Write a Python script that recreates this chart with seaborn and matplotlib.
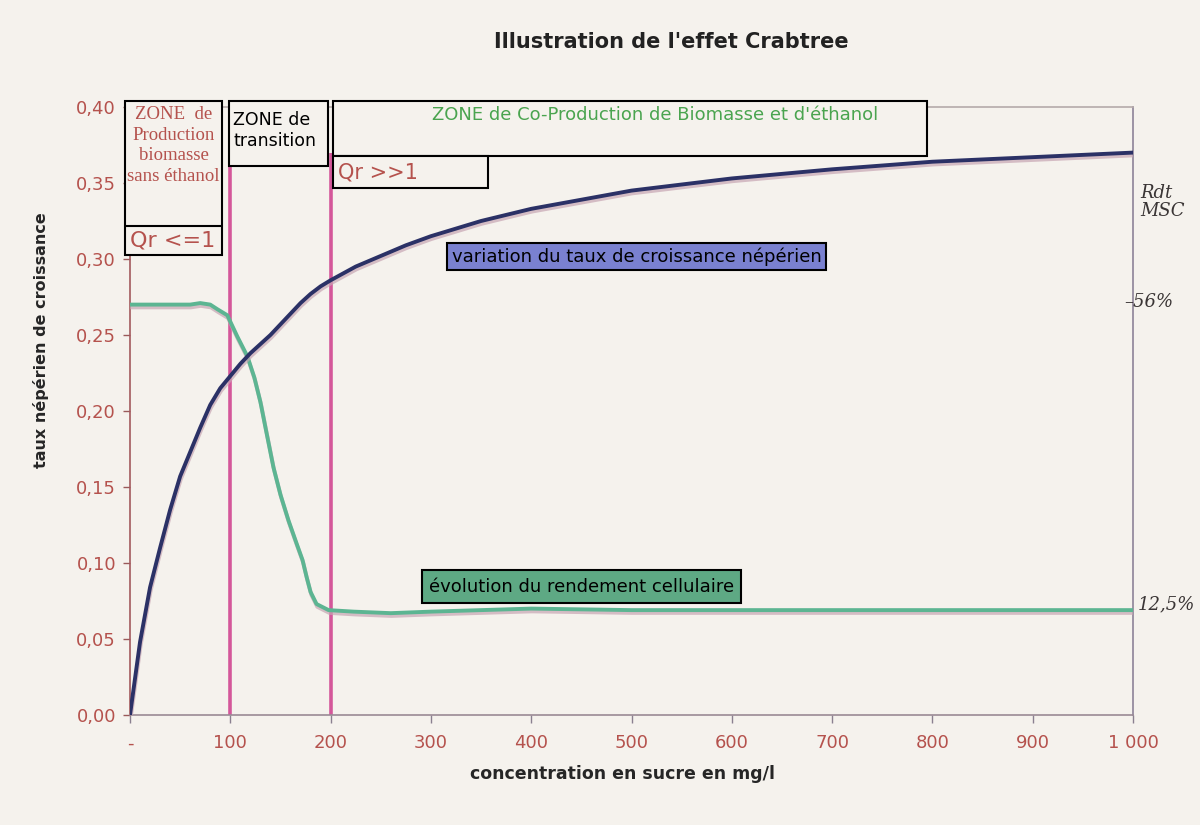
import numpy as np
import pandas as pd
import seaborn as sns
import matplotlib.pyplot as plt
import matplotlib.patheffects as pe
from matplotlib.patches import Rectangle
from matplotlib.transforms import ScaledTranslation
from matplotlib.ticker import FuncFormatter

# sucre (mg/l) -> taux de croissance nepérien
sugar_mu = [0, 5, 10, 20, 30, 40, 50, 60, 70, 80, 90, 100, 110, 120, 130, 140,
            150, 160, 170, 180, 190, 200, 225, 250, 275, 300, 350, 400, 450,
            500, 600, 700, 800, 900, 1000]
mu = [0.000, 0.024, 0.048, 0.084, 0.110, 0.135, 0.157, 0.173, 0.189, 0.204,
      0.215, 0.223, 0.231, 0.238, 0.244, 0.250, 0.257, 0.264, 0.271, 0.277,
      0.282, 0.286, 0.295, 0.302, 0.309, 0.315, 0.325, 0.333, 0.339, 0.345,
      0.353, 0.359, 0.364, 0.367, 0.370]

# sucre (mg/l) -> rendement cellulaire
sugar_yield = [0, 20, 40, 60, 70, 80, 87, 97, 107, 117, 124, 130, 136, 143,
               150, 158, 166, 172, 176, 180, 186, 198, 223, 260, 300, 400,
               500, 700, 1000]
yield_cell = [0.270, 0.270, 0.270, 0.270, 0.271, 0.270, 0.267, 0.263, 0.249,
              0.236, 0.222, 0.206, 0.186, 0.163, 0.145, 0.128, 0.113, 0.102,
              0.091, 0.081, 0.073, 0.069, 0.068, 0.067, 0.068, 0.070, 0.069,
              0.069, 0.069]

zone_edges = [100, 200]
x_ticks = [0, 100, 200, 300, 400, 500, 600, 700, 800, 900, 1000]
x_labels = ['-', '100', '200', '300', '400', '500', '600', '700', '800', '900', '1 000']
y_ticks = [0.0, 0.05, 0.10, 0.15, 0.20, 0.25, 0.30, 0.35, 0.40]

bg = '#f5f2ed'
red = '#b5524d'
blue = '#2b3166'
green = '#5cb592'
magenta = '#d4579a'

sns.set_style("ticks")
plt.rcParams['font.family'] = ['DejaVu Sans']

fig = plt.figure(figsize=(12, 8.25), dpi=100, facecolor=bg)
ax = fig.add_axes([130/1200, 1 - 715/825, (1133-130)/1200, (715-107)/825])
ax.set_facecolor(bg)

df_mu = pd.DataFrame({'sucre': sugar_mu, 'taux': mu})
df_y = pd.DataFrame({'sucre': sugar_yield, 'rendement': yield_cell})

shadow = [pe.SimpleLineShadow(offset=(0.5, -2), shadow_color='#c7a5b3', alpha=0.7), pe.Normal()]

for xz in zone_edges:
    ax.plot([xz, xz], [0, 0.37], color=magenta, lw=2.6, zorder=2, solid_capstyle='butt')

sns.lineplot(data=df_y, x='sucre', y='rendement', ax=ax, color=green, lw=2.8,
             path_effects=shadow, zorder=3)
sns.lineplot(data=df_mu, x='sucre', y='taux', ax=ax, color=blue, lw=2.8,
             path_effects=shadow, zorder=4)

ax.set_xlim(0, 1000)
ax.set_ylim(0, 0.40)

ax.set_yticks(y_ticks)
ax.yaxis.set_major_formatter(FuncFormatter(lambda v, p: f"{v:.2f}".replace('.', ',')))
ax.set_xticks(x_ticks)
ax.set_xticklabels(x_labels)
shift = ScaledTranslation(-10/100, 0, fig.dpi_scale_trans)
for lab in ax.get_xticklabels():
    lab.set_transform(lab.get_transform() + shift)

ax.tick_params(axis='y', colors='#9a5a5a', labelcolor=red, labelsize=13, length=5, width=1, pad=5)
ax.tick_params(axis='x', colors='#8a8090', labelcolor=red, labelsize=13, length=6, width=1, pad=8)

ax.spines['left'].set_color('#a35a5e')
ax.spines['bottom'].set_color('#9a8a95')
ax.spines['right'].set_color('#8d8398')
ax.spines['top'].set_color('#b5aaaa')
ax.spines['top'].set_linestyle((0, (2, 1)))
for s in ax.spines.values():
    s.set_linewidth(1.2)

ax.set_xlabel('concentration en sucre en mg/l', fontsize=12.5, fontweight='bold')
ax.set_ylabel('taux népérien de croissance', fontsize=11.5, fontweight='bold')
ax.xaxis.set_label_coords(0.4915, -0.083)
ax.yaxis.set_label_coords(-0.081, 0.617)
fig.text(671/1200, 1 - 42/825, "Illustration de l'effet Crabtree", ha='center', va='center',
         fontsize=15, fontweight='bold', color='#222222')

# zones (boxes in data coordinates)
def box(x0, x1, y0, y1):
    r = Rectangle((x0, y0), x1 - x0, y1 - y0, fill=True, facecolor=bg, edgecolor='black',
                  lw=1.5, clip_on=False, zorder=5)
    ax.add_patch(r)

box(-5, 92, 0.3026, 0.404)
ax.plot([-5, 92], [0.3217, 0.3217], color='black', lw=1.5, clip_on=False, zorder=6)
box(99, 197.5, 0.361, 0.404)
box(202, 795, 0.368, 0.404)
box(202, 357, 0.3467, 0.368)

ax.text(43.5, 0.4005, 'ZONE  de\nProduction\nbiomasse\nsans éthanol', ha='center', va='top',
        family='Liberation Serif', fontsize=13.5, color=red, linespacing=1.27, zorder=7)
ax.text(0, 0.312, 'Qr <=1', ha='left', va='center', fontsize=16, color=red, zorder=7)
ax.text(103, 0.3845, 'ZONE de\ntransition', ha='left', va='center', fontsize=12.5,
        color='black', linespacing=1.25, zorder=7)
ax.text(524, 0.395, "ZONE de Co-Production de Biomasse et d'éthanol", ha='center', va='center',
        fontsize=13, color='#4aa44f', zorder=7)
ax.text(207, 0.357, 'Qr >>1', ha='left', va='center', fontsize=15, color=red, zorder=7)

ax.text(321, 0.3016, 'variation du taux de croissance népérien', ha='left', va='center',
        fontsize=13, color='black', zorder=7,
        bbox=dict(boxstyle='square,pad=0.25', facecolor='#7a81d0', edgecolor='black', lw=1.5))
ax.text(298, 0.0845, 'évolution du rendement cellulaire', ha='left', va='center',
        fontsize=13, color='black', zorder=7,
        bbox=dict(boxstyle='square,pad=0.4', facecolor='#5ea984', edgecolor='black', lw=1.5))

# handwritten notes right side
hand = dict(family='DejaVu Serif', style='italic', color='#3a3535', zorder=7)
fig.text(1140/1200, 1 - 202/825, 'Rdt\nMSC', ha='left', va='center', fontsize=13,
         linespacing=1.0, **hand)
fig.text(1124/1200, 1 - 302/825, '–56%', ha='left', va='center', fontsize=13, **hand)
fig.text(1138/1200, 1 - 604/825, '12,5%', ha='left', va='center', fontsize=13, **hand)

fig.savefig('out.png', dpi=100, facecolor=bg)
